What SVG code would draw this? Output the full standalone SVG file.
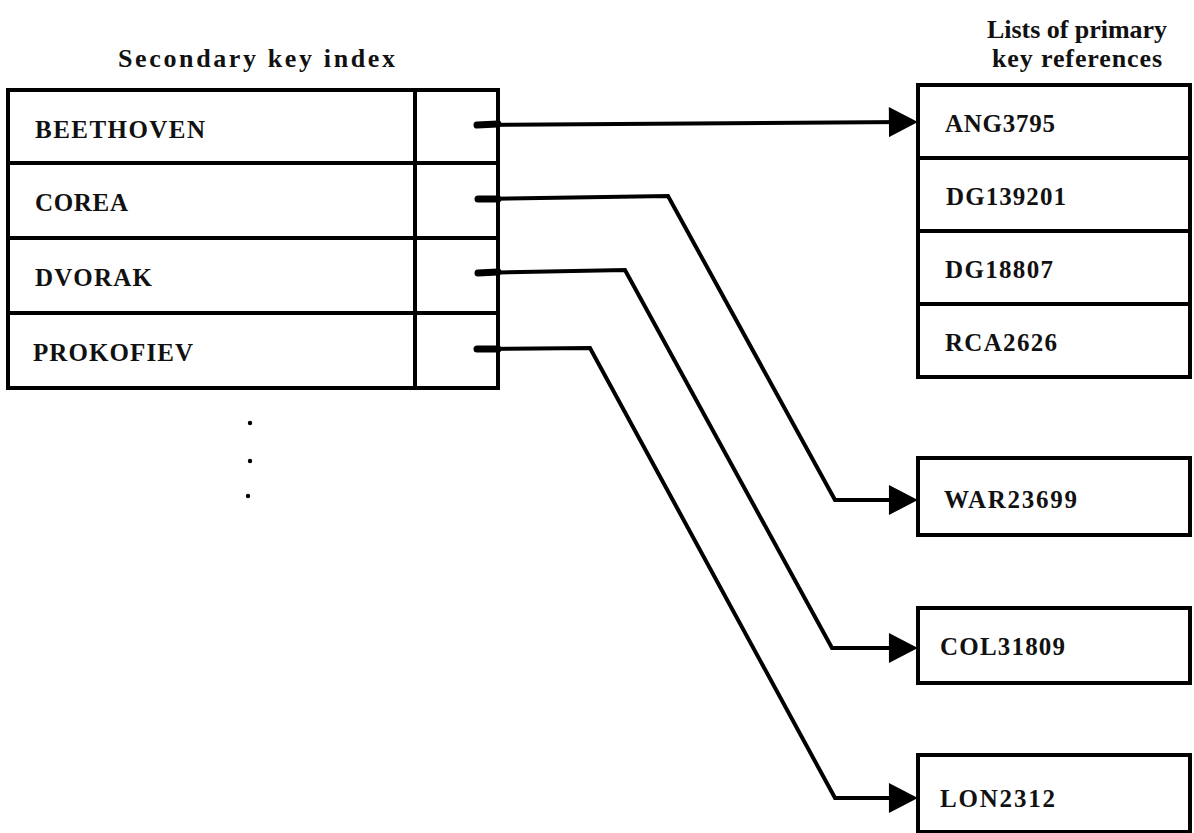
<svg xmlns="http://www.w3.org/2000/svg" width="1194" height="833" viewBox="0 0 1194 833">
<style>
.box{fill:#fff;stroke:#000;stroke-width:4;stroke-linejoin:miter}
.div{stroke:#000;stroke-width:4;fill:none}
.lbl{font-family:"Liberation Serif","DejaVu Serif",serif;font-size:25px;font-weight:bold;fill:#111}
.hdr{font-family:"Liberation Serif","DejaVu Serif",serif;font-size:26px;font-weight:bold;fill:#111}
.con{fill:none;stroke:#000;stroke-width:4;stroke-linejoin:miter}
.stub{stroke:#000;stroke-width:7;stroke-linecap:round}
</style>
<defs>
<marker id="ah" markerUnits="userSpaceOnUse" markerWidth="30" markerHeight="30" viewBox="0 0 27 28" refX="15" refY="14" orient="auto">
<path d="M0,0 L27,14 L0,28 Z" fill="#000"/>
</marker>
</defs>
<rect width="1194" height="833" fill="#fff"/>

<g id="headers">
<text class="hdr" x="118" y="67" textLength="277" lengthAdjust="spacing">Secondary key index</text>
<text class="hdr" x="987" y="38" textLength="180" lengthAdjust="spacing">Lists of primary</text>
<text class="hdr" x="992" y="67" textLength="170" lengthAdjust="spacing">key references</text>
</g>

<g id="secondary-index">
<rect class="box" x="8" y="90" width="490" height="298"/>
<line class="div" x1="8" y1="163" x2="498" y2="163"/>
<line class="div" x1="8" y1="238" x2="498" y2="238"/>
<line class="div" x1="8" y1="313" x2="498" y2="313"/>
<line class="div" x1="415" y1="90" x2="415" y2="388"/>
</g>
<g id="row-beethoven"><text class="lbl" x="35" y="138" textLength="170" lengthAdjust="spacing">BEETHOVEN</text></g>
<g id="row-corea"><text class="lbl" x="35" y="211" textLength="93" lengthAdjust="spacing">COREA</text></g>
<g id="row-dvorak"><text class="lbl" x="35" y="286" textLength="117" lengthAdjust="spacing">DVORAK</text></g>
<g id="row-prokofiev"><text class="lbl" x="33" y="361" textLength="160" lengthAdjust="spacing">PROKOFIEV</text></g>

<g id="ellipsis">
<circle cx="250" cy="423" r="2.2" fill="#000"/>
<circle cx="250" cy="461" r="2.2" fill="#000"/>
<circle cx="248" cy="496" r="2.2" fill="#000"/>
</g>

<g id="list-top">
<rect class="box" x="918" y="85" width="272" height="292"/>
<line class="div" x1="918" y1="158" x2="1190" y2="158"/>
<line class="div" x1="918" y1="231" x2="1190" y2="231"/>
<line class="div" x1="918" y1="304" x2="1190" y2="304"/>
</g>
<g id="ref-ang3795"><text class="lbl" x="945" y="132" textLength="110" lengthAdjust="spacing">ANG3795</text></g>
<g id="ref-dg139201"><text class="lbl" x="946" y="205" textLength="120" lengthAdjust="spacing">DG139201</text></g>
<g id="ref-dg18807"><text class="lbl" x="945" y="278" textLength="108" lengthAdjust="spacing">DG18807</text></g>
<g id="ref-rca2626"><text class="lbl" x="945" y="351" textLength="112" lengthAdjust="spacing">RCA2626</text></g>

<g id="ref-war23699">
<rect class="box" x="918" y="458" width="272" height="77"/>
<text class="lbl" x="944" y="508" textLength="133" lengthAdjust="spacing">WAR23699</text>
</g>
<g id="ref-col31809">
<rect class="box" x="918" y="608" width="272" height="75"/>
<text class="lbl" x="940" y="655" textLength="125" lengthAdjust="spacing">COL31809</text>
</g>
<g id="ref-lon2312">
<rect class="box" x="918" y="755" width="272" height="77"/>
<text class="lbl" x="940" y="807" textLength="115" lengthAdjust="spacing">LON2312</text>
</g>

<g id="connectors">
<line class="stub" x1="477" y1="125" x2="498" y2="124"/>
<line class="stub" x1="478" y1="199" x2="498" y2="199"/>
<line class="stub" x1="478" y1="273" x2="498" y2="272"/>
<line class="stub" x1="477" y1="349" x2="498" y2="349"/>
<path class="con" d="M477,125 L905,122" marker-end="url(#ah)"/>
<path class="con" d="M477,199 L668,196 L835,500 L905,500" marker-end="url(#ah)"/>
<path class="con" d="M477,273 L625,270 L832,648 L905,648" marker-end="url(#ah)"/>
<path class="con" d="M477,349 L590,348 L835,798 L905,798" marker-end="url(#ah)"/>
</g>
</svg>
